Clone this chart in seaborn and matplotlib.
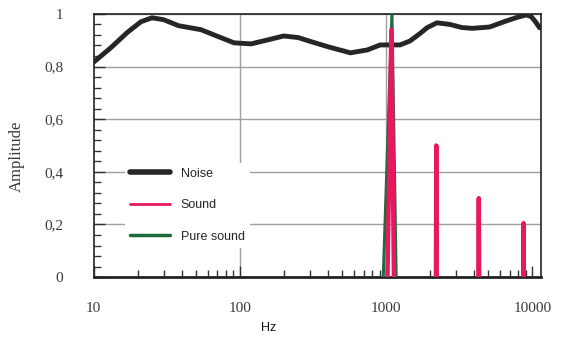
import numpy as np
import pandas as pd
import matplotlib
matplotlib.use("Agg")
import matplotlib.pyplot as plt
from matplotlib.ticker import FixedLocator, MultipleLocator, LogLocator, NullFormatter
from matplotlib.lines import Line2D
import seaborn as sns

# ---- data ----
noise_hz = [10, 13, 17, 21, 25, 30, 38, 54, 70, 91, 119, 160, 199, 250, 304, 400,
            569, 743, 910, 1244, 1455, 1700, 1900, 2220, 2720, 3300, 3890, 5090,
            6620, 8000, 9090, 9800, 10500, 11200]
noise_amp = [0.817, 0.87, 0.93, 0.97, 0.985, 0.978, 0.955, 0.94, 0.915, 0.89,
             0.886, 0.903, 0.916, 0.91, 0.895, 0.875, 0.852, 0.863, 0.882, 0.882,
             0.897, 0.925, 0.947, 0.966, 0.96, 0.948, 0.945, 0.95, 0.973, 0.988,
             0.996, 0.99, 0.97, 0.947]

sound_hz = [1020, 1085, 1130, 2190, 2200, 2210, 4280, 4300, 4320, 8680, 8700, 8720]
sound_amp = [0, 0.94, 0, 0, 0.5, 0, 0, 0.30, 0, 0, 0.205, 0]
sound_id = [1, 1, 1, 2, 2, 2, 3, 3, 3, 4, 4, 4]

pure_hz = [955, 1095, 1170]
pure_amp = [0, 1.0, 0]

x_ticks = [10, 100, 1000, 10000]
x_labels = ["10", "100", "1000", "10000"]
y_ticks = [0, 0.2, 0.4, 0.6, 0.8, 1.0]
y_labels = ["0", "0,2", "0,4", "0,6", "0,8", "1"]

noise_color = "#262626"
sound_color = "#e8185e"
pure_color = "#1e6b3c"

sns.set_style("white")
plt.rcParams["font.family"] = ["Liberation Serif", "DejaVu Serif"]

fig = plt.figure(figsize=(5.65, 3.38), dpi=100)
ax = fig.add_axes([0.166, 0.180, 0.792, 0.779])

df_noise = pd.DataFrame({"hz": noise_hz, "amp": noise_amp})
df_sound = pd.DataFrame({"hz": sound_hz, "amp": sound_amp, "id": sound_id})
df_pure = pd.DataFrame({"hz": pure_hz, "amp": pure_amp})

sns.lineplot(data=df_pure, x="hz", y="amp", ax=ax, color=pure_color, lw=2.2,
             sort=False, estimator=None, zorder=4)
sns.lineplot(data=df_sound, x="hz", y="amp", units="id", estimator=None, ax=ax,
             color=sound_color, lw=3.2, sort=False, zorder=5)
sns.lineplot(data=df_noise, x="hz", y="amp", ax=ax, color=noise_color, lw=3.5,
             sort=False, estimator=None, zorder=3)

ax.set_xscale("log")
ax.set_xlim(10, 11500)
ax.set_ylim(0, 1.0)

ax.xaxis.set_major_locator(FixedLocator(x_ticks))
ax.set_xticklabels(x_labels)
ax.xaxis.set_minor_locator(LogLocator(base=10, subs=np.arange(2, 10)))
ax.xaxis.set_minor_formatter(NullFormatter())
ax.yaxis.set_major_locator(FixedLocator(y_ticks))
ax.set_yticklabels(y_labels)
ax.yaxis.set_minor_locator(MultipleLocator(0.04))

ax.tick_params(axis="both", which="both", bottom=True, left=True, top=False, right=False)
ax.tick_params(axis="both", which="major", direction="in", length=8, width=1,
               color="#333333", labelsize=11, labelcolor="#3a3a3a")
ax.tick_params(axis="x", which="major", pad=18)
ax.tick_params(axis="y", which="major", pad=22)
ax.tick_params(axis="both", which="minor", direction="in", length=5, width=1,
               color="#333333")

ax.grid(True, which="major", color="#a0a0a0", lw=1.0)
ax.set_axisbelow(True)
for i, gl in enumerate(ax.get_xgridlines()):
    if i in (0, 3):
        gl.set_visible(False)
for s in ax.spines.values():
    s.set_visible(True)
    s.set_color("#222222")
    s.set_linewidth(1.2)
ax.spines["bottom"].set_linewidth(2)

ax.set_xlabel("Hz", family=["Liberation Sans", "DejaVu Sans"], fontsize=9, color="#111111")
ax.xaxis.set_label_coords(0.39, -0.17)
ax.set_ylabel("Amplitude", fontsize=12, color="#3a3a3a")
ax.yaxis.set_label_coords(-0.154, 0.46)

handles = [Line2D([], [], color=noise_color, lw=4),
           Line2D([], [], color=sound_color, lw=2),
           Line2D([], [], color=pure_color, lw=2.5)]
leg = ax.legend(handles, ["Noise", "Sound", "Pure sound"], loc="upper left",
                bbox_to_anchor=(0.055, 0.458), frameon=True, facecolor="white",
                edgecolor="none", framealpha=1, fancybox=False,
                prop={"family": ["Liberation Sans", "DejaVu Sans"], "size": 9},
                handlelength=3.2, handletextpad=0.9, labelspacing=1.55,
                borderpad=0.4)
leg.set_zorder(6)

fig.savefig("out.png", dpi=100)
